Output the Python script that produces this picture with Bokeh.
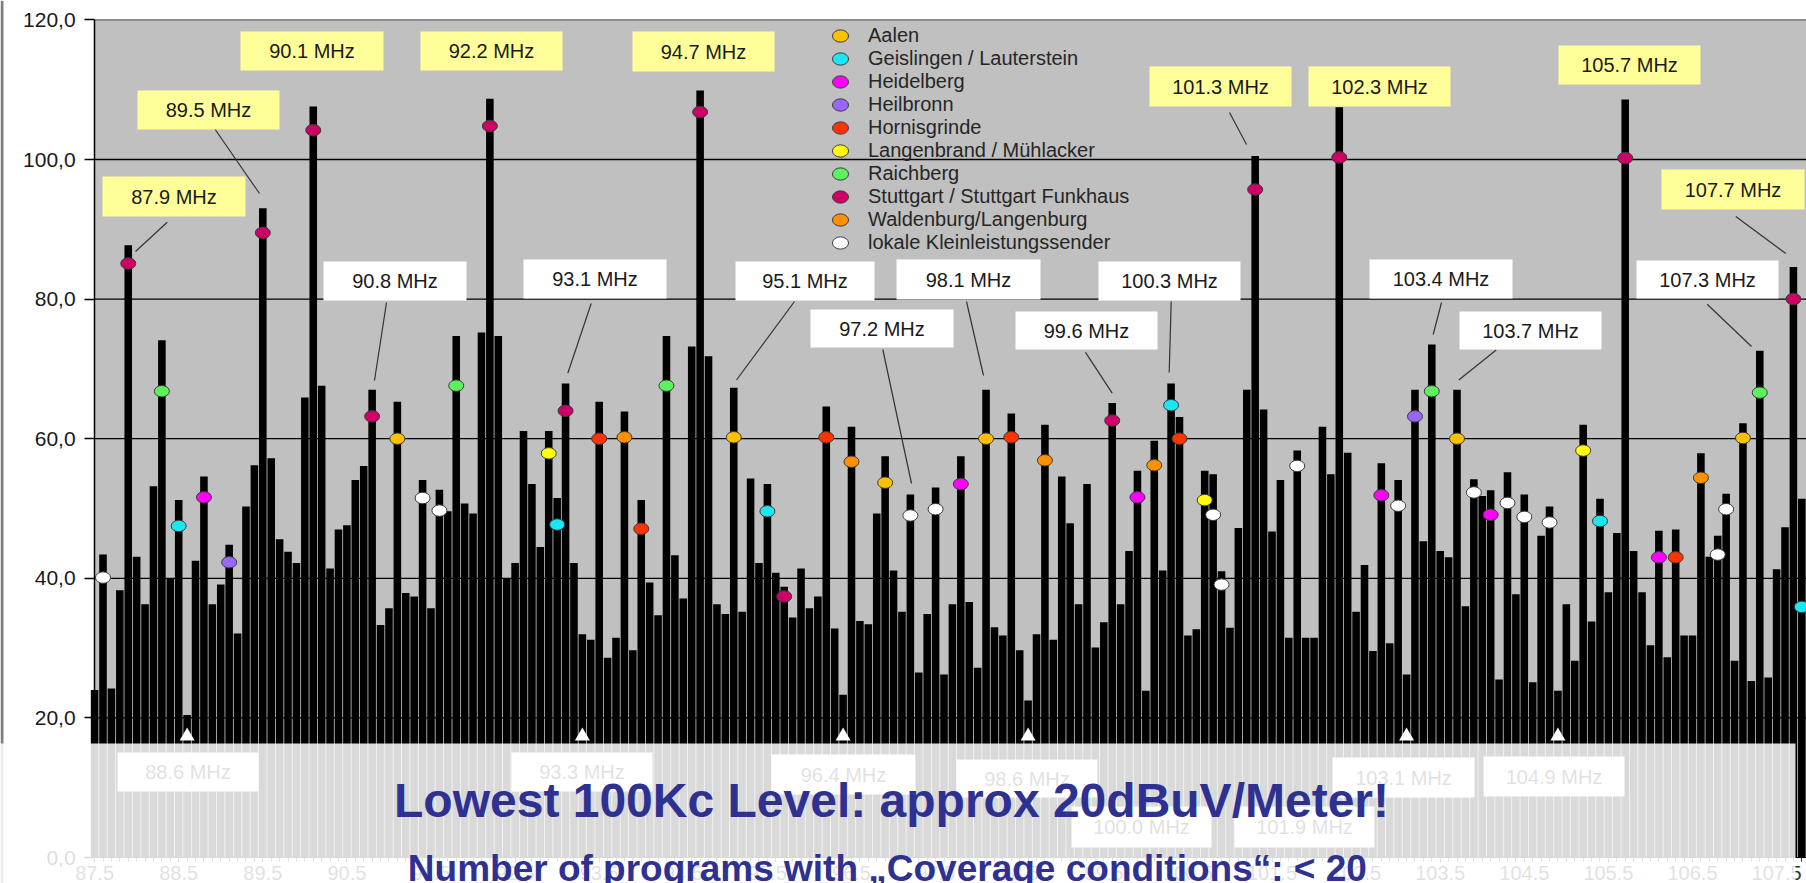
from bokeh.plotting import figure
from bokeh.models import (ColumnDataSource, FixedTicker, Legend, LegendItem,
                          CustomJSTickFormatter)
from bokeh.core.properties import value
from bokeh.embed import file_html
from bokeh.resources import INLINE

# ---------------- data ----------------
first_channel = 87.5
levels = [
    24.0, 43.4, 24.2, 38.3, 87.7, 43.1, 36.3, 53.2, 74.1, 40.0,   # 87.5 - 88.4
    51.2, 20.4, 42.5, 54.6, 36.3, 39.1, 44.8, 32.1, 50.3, 56.2,   # 88.5 - 89.4
    93.0, 57.2, 45.6, 43.8, 42.2, 65.9, 107.6, 67.6, 41.4, 47.0,  # 89.5 - 90.4
    47.6, 54.1, 56.1, 67.0, 33.3, 35.7, 65.3, 37.9, 37.4, 54.1,   # 90.5 - 91.4
    35.7, 52.7, 49.6, 74.7, 50.7, 49.3, 75.2, 108.7, 74.7, 40.0,  # 91.5 - 92.4
    42.2, 61.1, 53.5, 44.5, 61.1, 51.5, 67.9, 42.2, 32.0, 31.2,   # 92.5 - 93.4
    65.3, 28.6, 31.5, 63.9, 29.7, 51.2, 39.4, 34.7, 74.7, 43.3,   # 93.5 - 94.4
    37.1, 73.2, 109.9, 71.8, 36.3, 34.9, 67.3, 35.2, 54.3, 42.2,  # 94.5 - 95.4
    53.5, 40.8, 38.8, 34.4, 41.4, 35.7, 37.4, 64.6, 32.8, 23.3,   # 95.5 - 96.4
    61.7, 33.9, 33.4, 49.3, 57.5, 41.1, 35.2, 52.0, 26.5, 34.9,   # 96.5 - 97.4
    53.0, 26.2, 36.3, 57.5, 36.6, 27.2, 67.0, 33.0, 31.8, 63.6,   # 97.5 - 98.4
    29.7, 22.5, 32.0, 62.0, 31.2, 54.6, 47.9, 36.3, 53.5, 30.1,   # 98.5 - 99.4
    33.7, 65.1, 36.3, 43.9, 55.4, 23.9, 59.7, 41.1, 67.9, 63.1,   # 99.5 - 100.4
    31.8, 32.7, 55.4, 54.9, 41.0, 32.9, 47.2, 67.0, 100.5, 64.2,  # 100.5 - 101.4
    46.7, 54.1, 31.5, 58.3, 31.5, 31.5, 61.7, 54.9, 107.5, 58.0,  # 101.5 - 102.4
    35.2, 41.9, 29.6, 56.5, 30.7, 54.1, 26.2, 67.0, 45.3, 73.5,   # 102.5 - 103.4
    43.9, 43.0, 67.0, 36.0, 54.2, 51.8, 52.6, 25.5, 55.2, 37.7,   # 103.5 - 104.4
    52.0, 25.1, 46.1, 50.3, 23.9, 36.3, 28.2, 62.0, 33.8, 51.4,   # 104.5 - 105.4
    38.0, 46.5, 108.6, 43.9, 38.0, 30.4, 46.8, 28.7, 47.0, 31.8,  # 105.5 - 106.4
    31.8, 57.9, 43.1, 46.1, 52.1, 28.2, 62.2, 25.3, 72.6, 25.8,   # 106.5 - 107.4
    41.3, 47.3, 84.6, 51.4,                                       # 107.5 - 107.8
]
channels = [round(first_channel + 0.1 * i, 1) for i in range(len(levels))]

station_names = ["Aalen", "Geislingen / Lauterstein", "Heidelberg", "Heilbronn",
                 "Hornisgrinde", "Langenbrand / Mühlacker", "Raichberg",
                 "Stuttgart / Stuttgart Funkhaus", "Waldenburg/Langenburg",
                 "lokale Kleinleistungssender"]
station_colors = ["#ffc000", "#19e8f2", "#ff00ff", "#9966ff", "#ff3300",
                  "#ffff00", "#5cf25c", "#cc0066", "#ff9000", "#ffffff"]

dot_freq = [91.1, 95.1, 96.9, 98.1, 103.7, 107.1,                       # Aalen
            88.5, 93.0, 95.5, 100.3, 105.4, 107.8,                      # Geislingen
            88.8, 97.8, 99.9, 102.8, 104.1, 106.1,                      # Heidelberg
            89.1, 103.2,                                                # Heilbronn
            93.5, 94.0, 96.2, 98.4, 100.4, 106.3,                       # Hornisgrinde
            92.9, 100.7, 105.2,                                         # Langenbrand
            88.3, 91.8, 94.3, 103.4, 107.3,                             # Raichberg
            87.9, 89.5, 90.1, 90.8, 92.2, 93.1, 94.7, 95.7, 99.6,
            101.3, 102.3, 105.7, 107.7,                                 # Stuttgart
            93.8, 96.5, 98.8, 100.1, 106.6,                             # Waldenburg
            87.6, 91.4, 91.6, 97.2, 97.5, 100.8, 100.9, 101.8, 103.0,
            103.9, 104.3, 104.5, 104.8, 106.8, 106.9]                   # lokale
dot_level = [60.0, 60.2, 53.7, 60.0, 60.0, 60.1,
             47.5, 47.7, 49.6, 64.8, 48.2, 35.9,
             51.6, 53.5, 51.6, 51.9, 49.1, 43.0,
             42.3, 63.2,
             60.0, 47.1, 60.2, 60.2, 60.0, 43.0,
             57.9, 51.2, 58.3,
             66.8, 67.6, 67.6, 66.8, 66.6,
             85.1, 89.5, 104.2, 63.2, 104.8, 64.0, 106.8, 37.4, 62.6,
             95.7, 100.3, 100.2, 80.0,
             60.2, 56.7, 56.9, 56.2, 54.4,
             40.1, 51.5, 49.7, 49.0, 49.9, 49.1, 39.1, 56.1, 50.4,
             52.3, 50.8, 48.8, 48.0, 43.4, 49.9]
dot_station = ([0] * 6 + [1] * 6 + [2] * 6 + [3] * 2 + [4] * 6 + [5] * 3 +
               [6] * 5 + [7] * 13 + [8] * 5 + [9] * 15)

weak_freq = [88.6, 93.3, 96.4, 98.6, 103.1, 104.9]

top_label_text = ["87.9 MHz", "89.5 MHz", "90.1 MHz", "92.2 MHz", "94.7 MHz",
                  "101.3 MHz", "102.3 MHz", "105.7 MHz", "107.7 MHz",
                  "90.8 MHz", "93.1 MHz", "95.1 MHz", "97.2 MHz", "98.1 MHz",
                  "99.6 MHz", "100.3 MHz", "103.4 MHz", "103.7 MHz", "107.3 MHz"]
hidden_label_text = ["88.6 MHz", "93.3 MHz", "96.4 MHz", "98.6 MHz",
                     "100.0 MHz", "101.9 MHz", "103.1 MHz", "104.9 MHz"]

title_line1 = "Lowest 100Kc Level: approx 20dBuV/Meter!"
title_line2 = "Number of programs with \u201eCoverage conditions\u201c:  < 20"

y_ticks = [0, 20, 40, 60, 80, 100, 120]
grid_levels = [20, 40, 60, 80, 100]
x_major_ticks = [87.5 + i for i in range(21)]

# ---------------- layout (reference pixel positions) ----------------
W, H = 1806, 883
X0_PX, PX_PER_MHZ = 94.1, 84.1
Y0_PX, PX_PER_DB = 857.0, 6.98


def fx(px):
    return 87.5 + (px - X0_PX) / PX_PER_MHZ


def fy(py):
    return (Y0_PX - py) / PX_PER_DB


X_END = fx(W)

top_label_fill = ["#ffff99"] * 9 + ["#ffffff"] * 10
top_label_box = [(102, 245, 176, 216), (137, 279, 90, 129), (240, 383, 31, 70),
                 (420, 562, 31, 70), (632, 774, 31, 71), (1149, 1291, 66, 106),
                 (1308, 1450, 66, 106), (1558, 1700, 45, 84), (1661, 1804, 169, 209),
                 (323, 466, 261, 300), (523, 666, 259, 298), (735, 874, 261, 300),
                 (810, 953, 309, 347), (896, 1040, 259, 299), (1015, 1157, 311, 349),
                 (1098, 1240, 261, 300), (1369, 1512, 259, 298), (1459, 1601, 311, 349),
                 (1636, 1778, 260, 298)]
leader_px = [(166.7, 221.8, 135, 251), (214, 128, 259, 193), (386, 302, 374, 380),
             (590.7, 303, 567.3, 372.7), (794, 301, 736, 379.5), (882.3, 349, 911, 483),
             (966, 301, 983, 375), (1085, 351.8, 1111.7, 392.6), (1170.7, 301, 1168.7, 372),
             (1229, 112, 1246, 144), (1441, 302, 1432.7, 334), (1495.7, 349.5, 1458.3, 379.5),
             (1706.7, 303.8, 1751, 346), (1735.3, 216, 1785.3, 253)]
hidden_label_box = [(117, 258, 752, 791), (511, 652, 752, 791), (771, 915, 754, 794),
                    (956, 1097, 759, 797), (1071, 1211, 806, 847), (1234, 1374, 806, 847),
                    (1332, 1474, 757, 797), (1483, 1624, 756, 796)]

FONT = "Liberation Sans"

p = figure(width=W, height=H, x_range=(fx(0), fx(W)), y_range=(fy(H), fy(0)),
           output_backend="svg", toolbar_location=None,
           min_border_left=0, min_border_right=0, min_border_top=0, min_border_bottom=0)
p.background_fill_color = "white"
p.border_fill_color = "white"
p.outline_line_color = None
p.xgrid.visible = False
p.ygrid.visible = False

# axes fixed at the data origin
p.yaxis.fixed_location = 87.5
p.yaxis.bounds = (0, 120)
p.yaxis.ticker = FixedTicker(ticks=y_ticks)
p.yaxis.formatter = CustomJSTickFormatter(code="return tick.toFixed(1).replace('.', ',');")
p.yaxis.major_label_text_font = FONT
p.yaxis.major_label_text_font_size = "21px"
p.yaxis.major_label_text_color = "#1a1a1a"
p.yaxis.major_tick_out = 10
p.yaxis.major_tick_in = 0
p.yaxis.minor_tick_line_color = None
p.yaxis.major_label_standoff = 9
p.yaxis.axis_line_color = "black"
p.yaxis.axis_line_width = 1.5
p.yaxis.major_tick_line_width = 1.5

minor = [round(87.5 + 0.1 * i, 1) for i in range(205)]
p.xaxis.fixed_location = 0
p.xaxis.bounds = (87.5, X_END)
p.xaxis.ticker = FixedTicker(ticks=x_major_ticks, minor_ticks=minor)
p.xaxis.formatter = CustomJSTickFormatter(code="return tick.toFixed(1);")
p.xaxis.major_label_text_font = FONT
p.xaxis.major_label_text_font_size = "20px"
p.xaxis.major_label_text_color = "#333333"
p.xaxis.major_label_standoff = 3
p.xaxis.major_tick_out = 5
p.xaxis.major_tick_in = 0
p.xaxis.minor_tick_out = 4
p.xaxis.minor_tick_in = 0
p.xaxis.axis_line_color = "black"
p.xaxis.major_tick_line_color = "black"
p.xaxis.minor_tick_line_color = "#333333"

# plot area background, frame edge and grid
p.quad(left=[87.5], right=[X_END + 1], bottom=[0], top=[120],
       fill_color="#c0c0c0", line_color=None, level="image")
p.segment(x0=[87.5] * len(grid_levels), x1=[X_END + 1] * len(grid_levels),
          y0=grid_levels, y1=grid_levels, line_color="black", line_width=1.3,
          level="underlay")
p.segment(x0=[87.5], x1=[X_END + 1], y0=[120], y1=[120], line_color="#8c8c8c",
          line_width=2, level="underlay")
# dark window edge at far left
p.segment(x0=[fx(1.5)], x1=[fx(1.5)], y0=[fy(0)], y1=[fy(H)], line_color="#808080",
          line_width=3, level="underlay")

# bars
bar_src = ColumnDataSource(dict(freq=channels, level=levels))
p.vbar(x="freq", top="level", bottom=0, width=0.09, source=bar_src,
       fill_color="black", line_color=None)

# labels hidden under the overlay
hb = dict(left=[fx(b[0]) for b in hidden_label_box], right=[fx(b[1]) for b in hidden_label_box],
          top=[fy(b[2]) for b in hidden_label_box], bottom=[fy(b[3]) for b in hidden_label_box],
          cx=[fx((b[0] + b[1]) / 2) for b in hidden_label_box],
          cy=[fy((b[2] + b[3]) / 2) for b in hidden_label_box], text=hidden_label_text)
hsrc = ColumnDataSource(hb)
p.quad(left="left", right="right", top="top", bottom="bottom", source=hsrc,
       fill_color="white", line_color=None)
p.text(x="cx", y="cy", text="text", source=hsrc, text_font=value(FONT),
       text_font_size="20px", text_align="center", text_baseline="middle",
       text_color="#333333")

# markers for weak channels
p.scatter(x=weak_freq, y=[17.4] * len(weak_freq), marker="triangle", size=15,
          fill_color="white", line_color=None)

# leader lines
p.segment(x0=[fx(l[0]) for l in leader_px], y0=[fy(l[1]) for l in leader_px],
          x1=[fx(l[2]) for l in leader_px], y1=[fy(l[3]) for l in leader_px],
          line_color="#333333", line_width=1.2)

# frequency labels
tb = dict(left=[fx(b[0]) for b in top_label_box], right=[fx(b[1]) for b in top_label_box],
          top=[fy(b[2]) for b in top_label_box], bottom=[fy(b[3]) for b in top_label_box],
          cx=[fx((b[0] + b[1]) / 2) for b in top_label_box],
          cy=[fy((b[2] + b[3]) / 2) for b in top_label_box],
          fill=top_label_fill, text=top_label_text)
tsrc = ColumnDataSource(tb)
p.quad(left="left", right="right", top="top", bottom="bottom", source=tsrc,
       fill_color="fill", line_color=None)
p.text(x="cx", y="cy", text="text", source=tsrc, text_font=value(FONT),
       text_font_size="20px", text_align="center", text_baseline="middle",
       text_color="#1a1a1a")

# station dots
items = []
for si, (name, col) in enumerate(zip(station_names, station_colors)):
    xs = [f for f, s in zip(dot_freq, dot_station) if s == si]
    ys = [v for v, s in zip(dot_level, dot_station) if s == si]
    r = p.ellipse(x=xs, y=ys, width=15, height=11.5, width_units="screen",
                  height_units="screen", fill_color=col, line_color="#3a3a3a",
                  line_width=1)
    items.append(LegendItem(label=name, renderers=[r]))

legend = Legend(items=items, location=(830, 629), orientation="vertical",
                background_fill_alpha=0, border_line_color=None, padding=0, margin=0,
                spacing=0, label_height=23, glyph_height=23, glyph_width=20,
                label_standoff=18, label_text_font=FONT, label_text_font_size="20px",
                label_text_color="#262626")
p.add_layout(legend)

# translucent white band over the bottom of the chart
p.quad(left=[fx(-10)], right=[fx(1795)], top=[fy(743)], bottom=[fy(H + 20)],
       fill_color="white", fill_alpha=0.85, line_color=None, level="overlay")

# blue annotations on top
p.text(x=[fx(891)], y=[fy(800)], text=[title_line1], text_align="center",
       text_baseline="alphabetic", text_font=value(FONT), text_font_size="48px",
       text_font_style="bold", text_color="#2e3192", level="overlay")
p.text(x=[fx(892)], y=[fy(868)], text=[title_line2], text_align="center",
       text_baseline="alphabetic", text_font=value(FONT), text_font_size="37px",
       text_font_style="bold", text_color="#2e3192", level="overlay")

open("out.html", "w").write(file_html(p, INLINE))
